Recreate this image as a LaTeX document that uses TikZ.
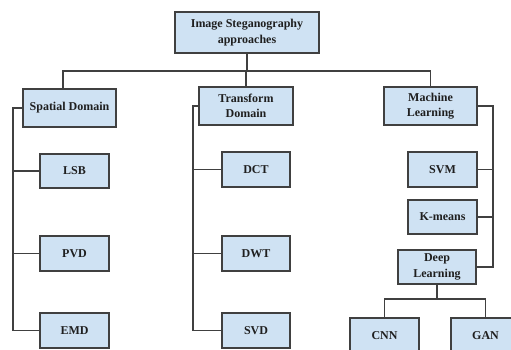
\documentclass[tikz,border=0pt]{standalone}
\usepackage{fontspec}
\setmainfont{Liberation Serif}
\definecolor{boxfill}{HTML}{CFE2F3}
\definecolor{boxline}{HTML}{404040}
\definecolor{txt}{HTML}{1F1F1F}
\begin{document}
\begin{tikzpicture}[x=1pt,y=-1pt,
  box/.style={draw=boxline,fill=boxfill,line width=1.3pt,rectangle,align=center,inner sep=0pt,
    font=\fontsize{12}{15.5}\selectfont\bfseries,text=txt},
  conn/.style={draw=boxline,line width=1.3pt}]
\useasboundingbox (0,0) rectangle (511,350);
\clip (0,0) rectangle (511,350);
\fill[white] (0,0) rectangle (511,350);
\node[box,minimum width=144pt,minimum height=41pt] (root) at (247,32.5) {Image Steganography\\approaches};
\node[box,minimum width=93pt,minimum height=38pt] (sp) at (69.5,108) {Spatial Domain};
\node[box,minimum width=94pt,minimum height=38pt] (tr) at (246,106) {Transform\\Domain};
\node[box,minimum width=93pt,minimum height=38pt] (ml) at (430.5,106) {Machine\\Learning};
\node[box,minimum width=69pt,minimum height=34pt] (lsb) at (74.5,171) {LSB};
\node[box,minimum width=69pt,minimum height=35pt] (pvd) at (74.5,253.5) {PVD};
\node[box,minimum width=69pt,minimum height=35pt] (emd) at (74.5,330.5) {EMD};
\node[box,minimum width=68pt,minimum height=35pt] (dct) at (256,169.5) {DCT};
\node[box,minimum width=68pt,minimum height=35pt] (dwt) at (256,253.5) {DWT};
\node[box,minimum width=68pt,minimum height=35pt] (svd) at (256,330.5) {SVD};
\node[box,minimum width=69pt,minimum height=35pt] (svm) at (442.5,169.5) {SVM};
\node[box,minimum width=69pt,minimum height=34pt] (km) at (442.5,217) {K-means};
\node[box,minimum width=78pt,minimum height=34pt] (dl) at (437,267) {Deep\\Learning};
\node[box,minimum width=69pt,minimum height=36pt] (cnn) at (384.5,336) {CNN};
\node[box,minimum width=69pt,minimum height=36pt] (gan) at (485.5,336) {GAN};
% bus coordinates
\coordinate (bus) at (0,71);
\coordinate (sx) at (13,0);
\coordinate (tx) at (193,0);
\coordinate (mx) at (493,0);
\coordinate (dlbus) at (0,299);
\coordinate (spt) at (63,89);
% root connectors
\draw[conn] (root.south) -- (root.south |- bus);
\draw[conn] (spt) -- (spt |- bus) -- (ml.north |- bus) -- (ml.north);
\draw[conn] (tr.north |- bus) -- (tr.north);
% spatial
\draw[conn] (sp.west) -- (sp.west -| sx) |- (emd.west);
\draw[conn] (lsb.west) -- (lsb.west -| sx);
\draw[conn] (pvd.west) -- (pvd.west -| sx);
% transform
\draw[conn] (tr.west) -- (tr.west -| tx) |- (svd.west);
\draw[conn] (dct.west) -- (dct.west -| tx);
\draw[conn] (dwt.west) -- (dwt.west -| tx);
% machine learning
\draw[conn] (ml.east) -- (ml.east -| mx) |- (dl.east);
\draw[conn] (svm.east) -- (svm.east -| mx);
\draw[conn] (km.east) -- (km.east -| mx);
% deep learning
\draw[conn] (dl.south) -- (dl.south |- dlbus);
\draw[conn] (cnn.north) |- (dl.south |- dlbus) -| (gan.north);
\end{tikzpicture}
\end{document}
